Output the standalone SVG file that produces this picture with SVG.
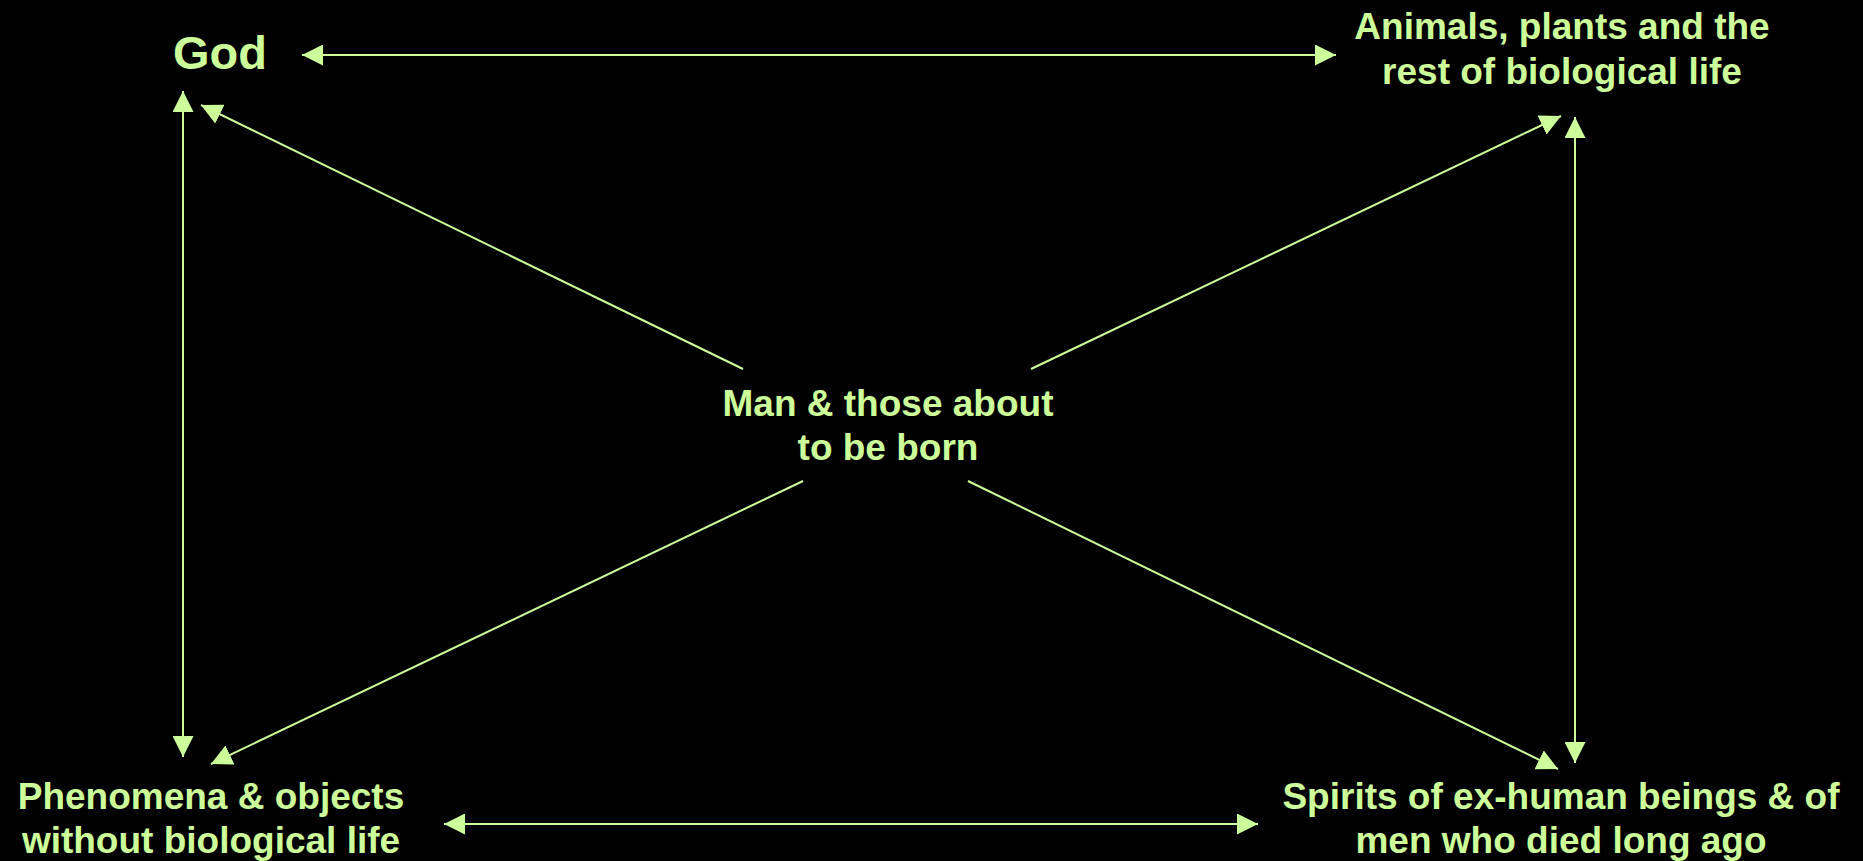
<svg xmlns="http://www.w3.org/2000/svg" width="1863" height="861" viewBox="0 0 1863 861">
  <defs>
    <style>
      .lbl { font-family: "Liberation Sans", Arial, sans-serif; font-weight: bold; fill: #CCFF99; text-anchor: middle; font-size: 37px; }
      .god { font-size: 47px; }
      .conn { stroke: #CCFF99; stroke-width: 2; fill: none; }
    </style>
    <marker id="ah" viewBox="0 0 21 21" refX="21" refY="10.5" markerWidth="21" markerHeight="21" markerUnits="userSpaceOnUse" orient="auto-start-reverse">
      <path d="M0,0 L21,10.5 L0,21 z" fill="#CCFF99"/>
    </marker>
  </defs>
  <rect width="1863" height="861" fill="#000000"/>
  <g id="connectors">
    <line class="conn" x1="302" y1="55" x2="1336" y2="55" marker-start="url(#ah)" marker-end="url(#ah)"/>
    <line class="conn" x1="444" y1="824" x2="1258" y2="824" marker-start="url(#ah)" marker-end="url(#ah)"/>
    <line class="conn" x1="183" y1="91" x2="183" y2="757" marker-start="url(#ah)" marker-end="url(#ah)"/>
    <line class="conn" x1="1575" y1="117" x2="1575" y2="763" marker-start="url(#ah)" marker-end="url(#ah)"/>
    <line class="conn" x1="743" y1="369" x2="201" y2="105" marker-end="url(#ah)"/>
    <line class="conn" x1="1031" y1="369" x2="1561" y2="116" marker-end="url(#ah)"/>
    <line class="conn" x1="803" y1="481" x2="211" y2="764" marker-end="url(#ah)"/>
    <line class="conn" x1="968" y1="481" x2="1558" y2="769" marker-end="url(#ah)"/>
  </g>
  <g id="god">
    <text class="lbl god" x="220" y="69">God</text>
  </g>
  <g id="animals">
    <text class="lbl" x="1562" y="39">Animals, plants and the</text>
    <text class="lbl" x="1562" y="84">rest of biological life</text>
  </g>
  <g id="man">
    <text class="lbl" x="888" y="416">Man &amp; those about</text>
    <text class="lbl" x="888" y="460">to be born</text>
  </g>
  <g id="phenomena">
    <text class="lbl" x="211" y="809">Phenomena &amp; objects</text>
    <text class="lbl" x="211" y="853">without biological life</text>
  </g>
  <g id="spirits">
    <text class="lbl" x="1561" y="809">Spirits of ex-human beings &amp; of</text>
    <text class="lbl" x="1561" y="853">men who died long ago</text>
  </g>
</svg>
